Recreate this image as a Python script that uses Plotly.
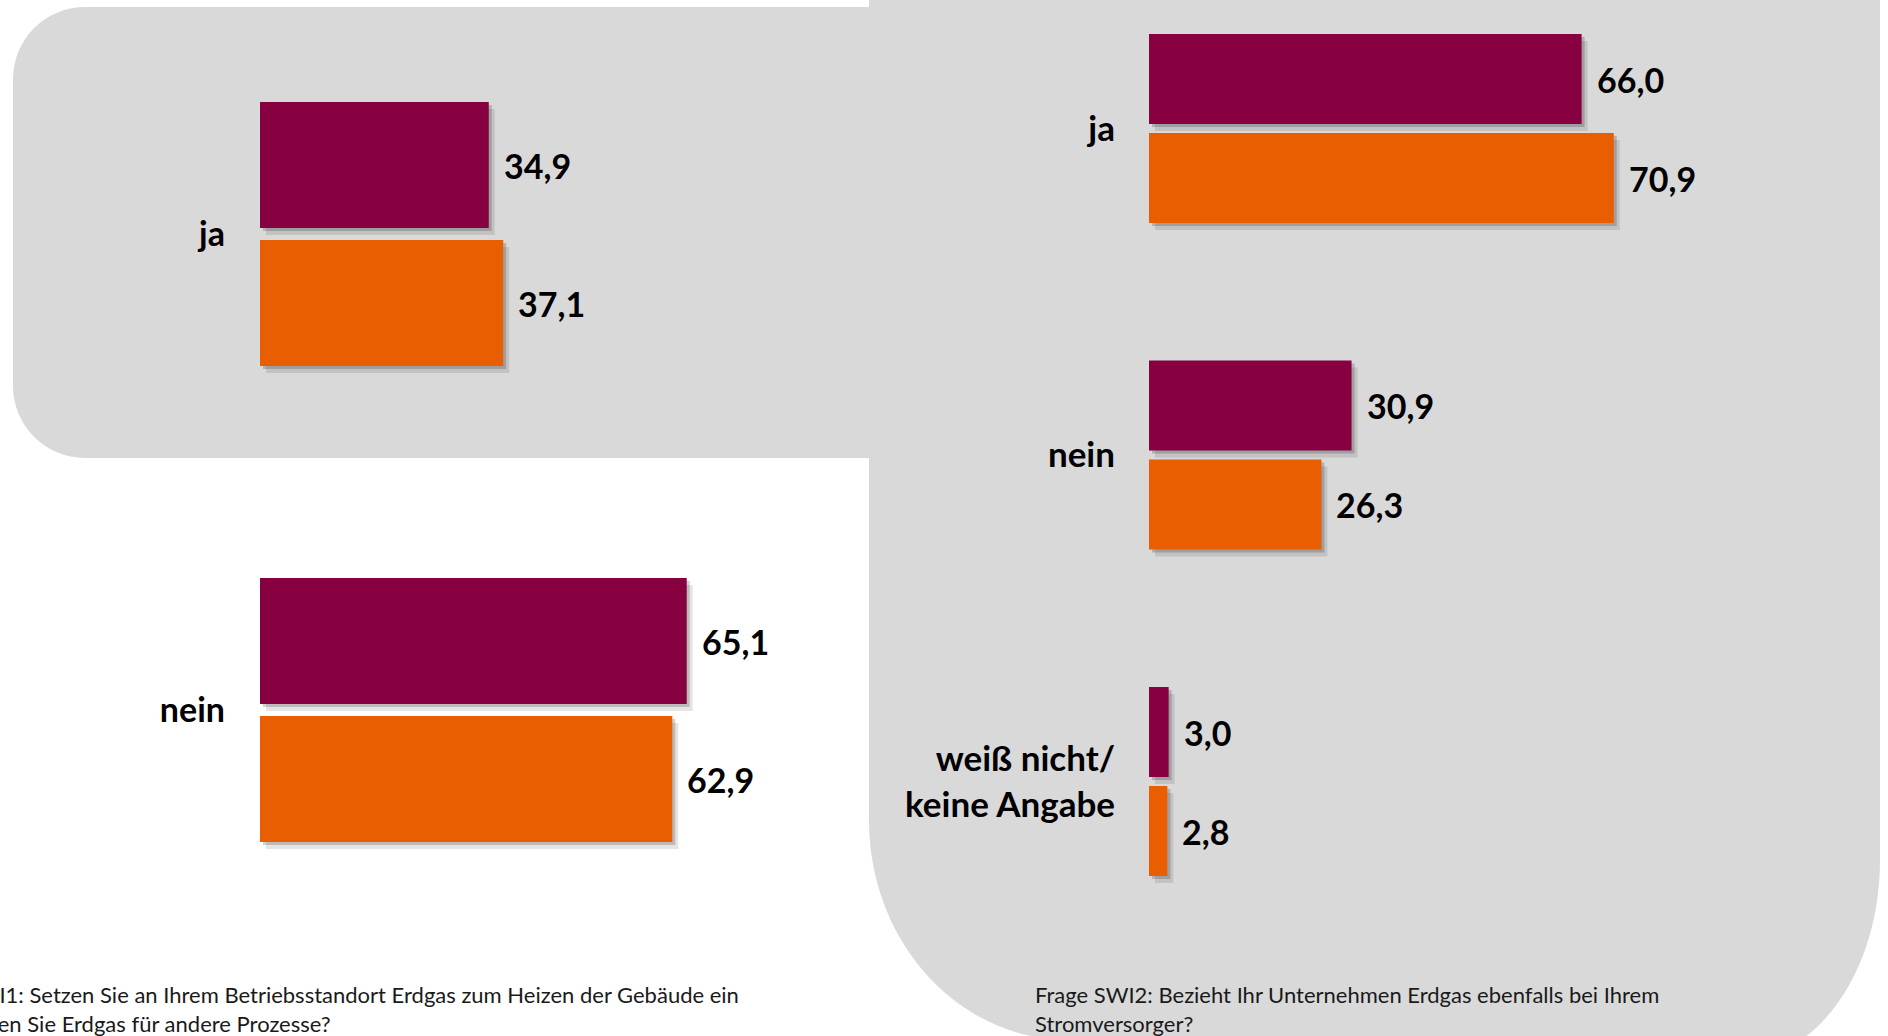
import plotly.graph_objects as go

W, H = 1888, 1036

# ---------------- data ----------------
left_categories = ["ja", "nein"]
left_values_a = [34.9, 65.1]      # purple series
left_values_b = [37.1, 62.9]      # orange series

right_categories = ["ja", "nein", "weiß nicht/<br>keine Angabe"]
right_values_a = [66.0, 30.9, 3.0]
right_values_b = [70.9, 26.3, 2.8]

left_note = ("Frage SWI1: Setzen Sie an Ihrem Betriebsstandort Erdgas zum Heizen der Gebäude ein"
             "<br>oder nutzen Sie Erdgas für andere Prozesse?")
right_note = ("Frage SWI2: Bezieht Ihr Unternehmen Erdgas ebenfalls bei Ihrem"
              "<br>Stromversorger?")

# ---------------- style ----------------
PURPLE = "#87003F"
ORANGE = "#E85E00"
PANEL = "#D9D9D9"
FONT = "Lato"

PX_PER_UNIT_X = 6.555          # horizontal scale (px per %)
# left subplot geometry (pixels)
L_X0 = 260
L_C0, L_STEP = 234, 476
L_BAR, L_GAP = 126, 12
# right subplot geometry (pixels)
R_X0 = 1149
R_C0, R_STEP = 128.5, 326.5
R_BAR, R_GAP = 90, 9

fig = go.Figure()


def fmt(v):
    return f"{v:.1f}".replace(".", ",")


def add_group(cats, va, vb, xa, ya, step, bar, gap):
    w = bar / step
    off_a = -(bar + gap / 2) / step
    off_b = (gap / 2) / step
    # soft drop shadows
    for dx, dy, alpha in [(6, 7, 0.10), (3, 3, 0.18)]:
        for vals, off in [(va, off_a), (vb, off_b)]:
            fig.add_trace(go.Bar(
                y=cats, x=vals, base=dx / PX_PER_UNIT_X, orientation="h",
                width=w, offset=off + dy / step,
                marker=dict(color=f"rgba(0,0,0,{alpha})", line=dict(width=0)),
                xaxis=xa, yaxis=ya, showlegend=False, hoverinfo="skip"))
    for vals, off, col in [(va, off_a, PURPLE), (vb, off_b, ORANGE)]:
        fig.add_trace(go.Bar(
            y=cats, x=vals, orientation="h", width=w, offset=off,
            marker=dict(color=col, line=dict(width=0)),
            xaxis=xa, yaxis=ya, showlegend=False))
        centre_px = (off + w / 2) * step
        for c, v in zip(cats, vals):
            fig.add_annotation(
                x=v, y=c, xref=xa, yref=ya, text=fmt(v), showarrow=False,
                xanchor="left", yanchor="middle", xshift=13, yshift=-centre_px,
                font=dict(family=FONT, size=34, color="#000000", weight="bold"))


add_group(left_categories, left_values_a, left_values_b, "x", "y", L_STEP, L_BAR, L_GAP)
add_group(right_categories, right_values_a, right_values_b, "x2", "y2", R_STEP, R_BAR, R_GAP)


def px(x):
    return x / W


def py(y):
    return 1 - y / H


def path(points_cmds):
    out = []
    for cmd, pts in points_cmds:
        coords = " ".join(f"{px(x):.5f},{py(y):.5f}" for x, y in pts)
        out.append(f"{cmd} {coords}" if coords else cmd)
    return " ".join(out)


k = 0.5523
# left panel (rounded left corners)
r = 72
lt, lb, ll, lr = 7, 458, 13, 880
left_panel = path([
    ("M", [(ll + r, lt)]), ("L", [(lr, lt)]), ("L", [(lr, lb)]), ("L", [(ll + r, lb)]),
    ("C", [(ll + r - k * r, lb), (ll, lb - r + k * r), (ll, lb - r)]),
    ("L", [(ll, lt + r)]),
    ("C", [(ll, lt + r - k * r), (ll + r - k * r, lt), (ll + r, lt)]),
    ("Z", []),
])
# right panel (large rounded bottom corners)
rl, rr = 869, 1880
lcx, lcy, lrx, lry = rl + 200, 820, 200, 220
rcx, rcy, rrx, rry = rr - 140, 860, 140, 200
right_panel = path([
    ("M", [(rl, 0)]), ("L", [(rr, 0)]), ("L", [(rr, rcy)]),
    ("C", [(rr, rcy + k * rry), (rcx + k * rrx, rcy + rry), (rcx, rcy + rry)]),
    ("L", [(lcx, lcy + lry)]),
    ("C", [(lcx - k * lrx, lcy + lry), (rl, lcy + k * lry), (rl, lcy)]),
    ("Z", []),
])
for p in (left_panel, right_panel):
    fig.add_shape(type="path", path=p, xref="paper", yref="paper",
                  fillcolor=PANEL, line=dict(width=0), layer="below")

# footnotes
for txt, x0 in [(left_note, -96), (right_note, 1033)]:
    fig.add_annotation(
        text=txt, xref="paper", yref="paper", x=px(x0), y=py(1008.5),
        xanchor="left", yanchor="middle", align="left", showarrow=False,
        font=dict(family=FONT, size=22, color="#1a1a1a"))

axis_common = dict(showgrid=False, zeroline=False, showline=False)
fig.update_layout(
    width=W, height=H, margin=dict(l=0, r=0, t=0, b=0),
    paper_bgcolor="white", plot_bgcolor="rgba(0,0,0,0)",
    barmode="overlay", showlegend=False,
    font=dict(family=FONT),
    xaxis=dict(domain=[px(L_X0), px(860)], range=[0, 600 / PX_PER_UNIT_X],
               showticklabels=False, fixedrange=True, **axis_common),
    yaxis=dict(domain=[0, 1], type="category", categoryorder="array",
               categoryarray=left_categories,
               range=[(H - L_C0) / L_STEP, -L_C0 / L_STEP],
               ticks="", ticklabelstandoff=34,
               tickfont=dict(family=FONT, size=34, color="#000000", weight="bold"),
               fixedrange=True, anchor="x", **axis_common),
    xaxis2=dict(domain=[px(R_X0), px(1849)], range=[0, 700 / PX_PER_UNIT_X],
                showticklabels=False, fixedrange=True, anchor="y2", **axis_common),
    yaxis2=dict(domain=[0, 1], type="category", categoryorder="array",
                categoryarray=right_categories,
                range=[(H - R_C0) / R_STEP, -R_C0 / R_STEP],
                ticks="", ticklabelstandoff=33,
                tickfont=dict(family=FONT, size=35, color="#000000", weight="bold"),
                fixedrange=True, anchor="x2", **axis_common),
)

fig.write_html(
    "out.html",
    config={"displayModeBar": False},
    post_script="document.body.style.margin='0';document.body.style.overflow='hidden';",
)
